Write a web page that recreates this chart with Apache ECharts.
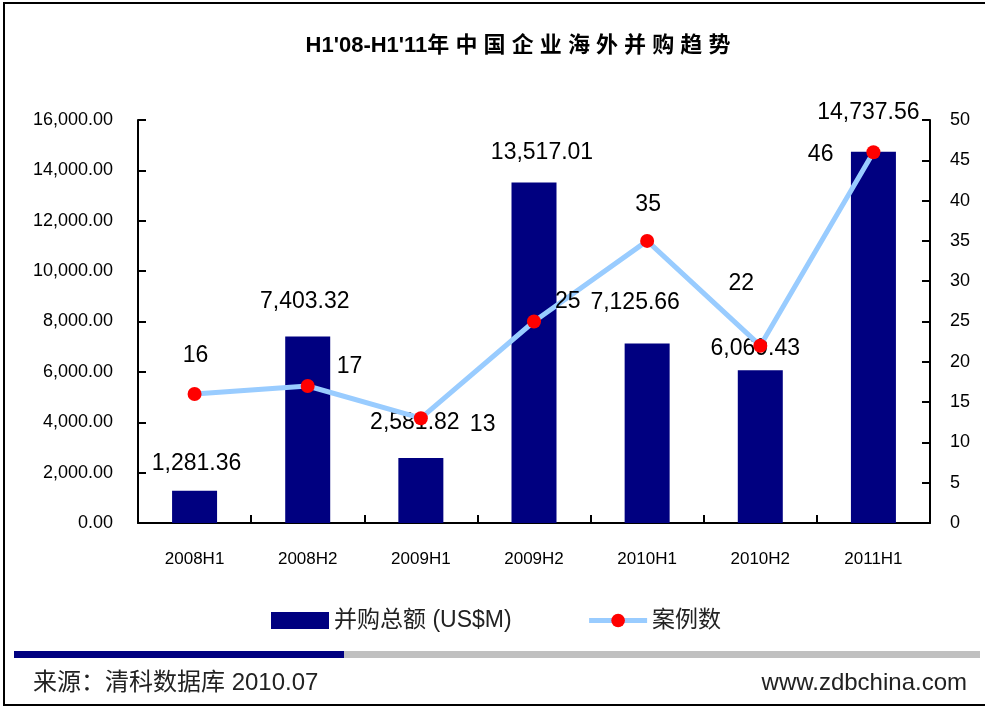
<!DOCTYPE html>
<html>
<head>
<meta charset="utf-8">
<title>H1'08-H1'11年中国企业海外并购趋势</title>
<script src="https://cdn.jsdelivr.net/npm/echarts@6/dist/echarts.min.js"></script>
<style>
  html, body { margin: 0; padding: 0; background: #fff; }
  #chart { width: 985px; height: 707px; }
</style>
</head>
<body>
<div id="chart"></div>
<script>
// data
const categories = ['2008H1', '2008H2', '2009H1', '2009H2', '2010H1', '2010H2', '2011H1']
const dealValue = [1281.36, 7403.32, 2581.82, 13517.01, 7125.66, 6069.43, 14737.56]
const dealCount = [16, 17, 13, 25, 35, 22, 46]

const titleText = "H1'08-H1'11年 中 国 企 业 海 外 并 购 趋 势"
const valueName = '并购总额 (US$M)'
const countName = '案例数'
const sourceText = '来源：清科数据库 2010.07'
const siteText = 'www.zdbchina.com'

// label placement, tweaked by hand to match the original
const barLabelPlace = [
  { distance: 16, offset: [2, 0] },
  { distance: 23, offset: [-3, 0] },
  { distance: 24, offset: [-6, 0] },
  { distance: 18, offset: [8, 0] },
  { distance: 29, offset: [-12, 0] },
  { distance: 10, offset: [-5, 0] },
  { distance: 28, offset: [-5, 0] },
]
const lineLabelPlace = [
  { position: 'top', distance: 20, offset: [1, 0] },
  { position: 'right', distance: 22, offset: [0, -19] },
  { position: 'right', distance: 42, offset: [0, 6] },
  { position: 'right', distance: 14, offset: [0, -20] },
  { position: 'top', distance: 18, offset: [1, 0] },
  { position: 'top', distance: 44, offset: [-19, 0] },
  { position: 'left', distance: 33, offset: [0, 2] },
]

const FONT = "'Liberation Sans', 'Noto Sans CJK SC', sans-serif"
const fmt2 = (v) => Number(v).toLocaleString('en-US', { minimumFractionDigits: 2, maximumFractionDigits: 2 })

const chart = echarts.init(document.getElementById('chart'))

const axisLine = { show: true, lineStyle: { color: '#000', width: 2 } }
const axisTick = { show: true, inside: true, length: 8, lineStyle: { color: '#000', width: 2 } }

const option = {
  backgroundColor: '#fff',
  animation: false,
  textStyle: { fontFamily: FONT },
  title: {
    text: titleText,
    left: 513,
    textAlign: 'center',
    top: 30,
    textStyle: { fontSize: 22, fontWeight: 'bold', color: '#000', fontFamily: FONT },
  },
  legend: {
    left: 266,
    top: 604,
    itemWidth: 58,
    itemHeight: 17,
    itemGap: 75,
    textStyle: { fontSize: 23, color: '#222', fontFamily: FONT },
    data: [
      { name: valueName, icon: 'rect' },
      { name: countName, lineStyle: { width: 5, color: '#99CCFF' } },
    ],
  },
  grid: { left: 138, right: 55, top: 120, bottom: 184 },
  xAxis: {
    type: 'category',
    data: categories,
    axisLine,
    axisTick,
    axisLabel: { color: '#000', fontSize: 17, margin: 28, fontFamily: FONT },
  },
  yAxis: [
    {
      type: 'value',
      min: 0,
      max: 16000,
      interval: 2000,
      axisLine,
      axisTick,
      splitLine: { show: false },
      axisLabel: { color: '#000', fontSize: 18, margin: 25, formatter: fmt2, fontFamily: FONT },
    },
    {
      type: 'value',
      min: 0,
      max: 50,
      interval: 5,
      position: 'right',
      axisLine,
      axisTick,
      splitLine: { show: false },
      axisLabel: { color: '#000', fontSize: 18, margin: 20, fontFamily: FONT },
    },
  ],
  series: [
    {
      name: valueName,
      type: 'bar',
      barWidth: 45,
      itemStyle: { color: '#000080' },
      data: dealValue.map((v, i) => ({
        value: v,
        label: { show: true, position: 'top', ...barLabelPlace[i] },
      })),
      label: { color: '#000', fontSize: 23, formatter: (p) => fmt2(p.value), fontFamily: FONT },
      z: 2,
    },
    {
      name: countName,
      type: 'line',
      yAxisIndex: 1,
      symbol: 'circle',
      symbolSize: 14,
      lineStyle: { color: '#99CCFF', width: 5 },
      itemStyle: { color: '#FF0000' },
      data: dealCount.map((v, i) => ({
        value: v,
        label: { show: true, ...lineLabelPlace[i] },
      })),
      label: { color: '#000', fontSize: 23, fontFamily: FONT },
      z: 3,
    },
  ],
  graphic: [
    {
      type: 'rect',
      shape: { x: 4, y: 3, width: 1000, height: 702 },
      style: { fill: 'none', stroke: '#000', lineWidth: 2 },
      silent: true,
    },
    {
      type: 'rect',
      shape: { x: 14, y: 651, width: 330, height: 7 },
      style: { fill: '#000080' },
    },
    {
      type: 'rect',
      shape: { x: 344, y: 651, width: 636, height: 7 },
      style: { fill: '#C0C0C0' },
    },
    {
      type: 'text',
      left: 33,
      top: 671,
      style: { text: sourceText, fontSize: 24, fill: '#222', fontFamily: FONT },
    },
    {
      type: 'text',
      right: 18,
      top: 671,
      style: { text: siteText, fontSize: 24, fill: '#222', fontFamily: FONT },
    },
  ],
}

chart.setOption(option)
window.addEventListener('resize', () => chart.resize())
</script>
</body>
</html>
